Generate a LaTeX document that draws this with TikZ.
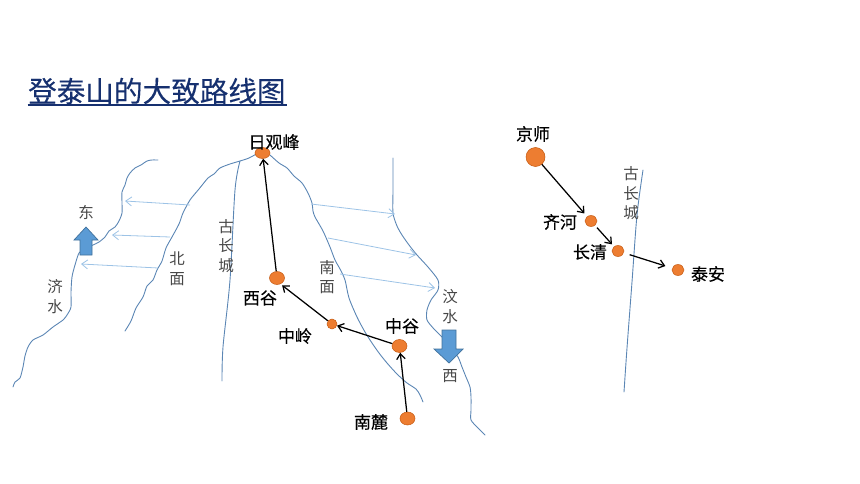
\documentclass[tikz,border=0pt]{standalone}
\usepackage{fontspec}
\usetikzlibrary{arrows.meta,shapes.geometric}
\setmainfont{Noto Sans CJK SC}
\newfontfamily\placefont[FakeBold=0.25]{Noto Sans CJK SC}
\newfontfamily\titlefont[FakeBold=0.15]{Noto Sans CJK SC}
\definecolor{riverblue}{HTML}{5B86B4}
\definecolor{paleblue}{HTML}{9DC3E6}
\definecolor{blockblue}{HTML}{5B9BD5}
\definecolor{blockedge}{HTML}{41719C}
\definecolor{dotfill}{HTML}{ED7D31}
\definecolor{dotedge}{HTML}{C55A11}
\definecolor{titleblue}{HTML}{16306F}
\tikzset{
  river/.style={draw=riverblue,line width=0.9pt,line join=round,line cap=round},
  pale/.style={draw=paleblue,line width=0.8pt,-{Straight Barb[length=6pt,width=9pt]}},
  route/.style={draw=black,line width=1.25pt,-{Straight Barb[length=5.5pt,width=8.5pt]}},
  blockarrow/.style={fill=blockblue,draw=blockedge,line width=0.7pt,line join=miter},
  dot/.style={fill=dotfill,draw=dotedge,line width=0.5pt,ellipse,inner sep=0pt},
  placelabel/.style={font=\placefont\fontsize{17}{17}\selectfont,text=black,inner sep=0pt},
  smalllabel/.style={font=\fontsize{15.5}{15.5}\selectfont,text=black!72,inner sep=0pt,align=center},
  titletext/.style={font=\titlefont\fontsize{28.6}{28.6}\selectfont,text=titleblue,inner sep=0pt,anchor=west}
}
\begin{document}
\begin{tikzpicture}[x=1pt,y=-1pt]
\useasboundingbox (0,0) rectangle (860,484);
% title
\node[titletext] (title) at (28,91) {登泰山的大致路线图};
\coordinate (ula) at (27.5,105);
\coordinate (ulb) at (287,105);
\draw[titleblue,line width=2.2pt] (ula) -- (ulb);
% rivers and slopes
\draw[river] plot[smooth,tension=0.45] coordinates {(158,160) (152,160) (147,161) (141,165) (135,168) (130,173) (127,178) (125,185) (122,192) (122,203) (122,213) (119,221) (115,227) (109,231) (105,237) (99,242) (93,245) (85,248) (79,253) (75,265) (72,277) (71,292) (71,307) (67,315) (63,320) (53,327) (43,335) (33,340) (28,347) (25,356) (23,367) (20,378) (15,382) (13,387)};
\draw[river] plot[smooth,tension=0.45] coordinates {(258,153) (249,158) (240,161) (230,164) (220,168) (214,174) (208,178) (199,189) (190,200) (183,213) (179,224) (172,237) (166,248) (162,261) (157,270) (153,280) (147,286) (143,297) (136,308) (131,321) (125,331)};
\draw[river] plot[smooth,tension=0.5] coordinates {(240,161) (235,190) (230,280) (223,347) (222,381)};
\draw[river] plot[smooth,tension=0.45] coordinates {(270,155) (279,163) (287,168) (294,176) (302,183) (308,193) (312,203) (313,211) (315,217) (323,231) (330,247) (335,260) (340,269) (345,280) (349,298) (357,317) (365,332) (372,343) (379,353) (387,363) (397,374) (407,383) (416,389) (420,395) (423,402)};
\draw[river] plot[smooth,tension=0.45] coordinates {(393,158) (393,190) (393,213) (397,226) (402,235) (409,245) (417,255) (428,267) (438,280) (438,290) (431,300) (427,310) (427,320) (434,329) (442,337) (450,347) (458,357) (462,367) (466,377) (470,387) (471,397) (471,410) (471,420) (478,428) (485,435)};
\draw[river] plot[smooth,tension=0.5] coordinates {(643,170) (637,215) (632,282) (627,348) (624,392)};
% pale arrows
\coordinate (pa1) at (190,205); \coordinate (pb1) at (125,201);
\coordinate (pa2) at (170,237); \coordinate (pb2) at (112,235);
\coordinate (pa3) at (158,268); \coordinate (pb3) at (81,264);
\coordinate (pa4) at (311,204); \coordinate (pb4) at (395,214);
\coordinate (pa5) at (328,238); \coordinate (pb5) at (416,255);
\coordinate (pa6) at (340,274); \coordinate (pb6) at (435,288);
\draw[pale] (pa1) -- (pb1);
\draw[pale] (pa2) -- (pb2);
\draw[pale] (pa3) -- (pb3);
\draw[pale] (pa4) -- (pb4);
\draw[pale] (pa5) -- (pb5);
\draw[pale] (pa6) -- (pb6);
% block arrows
\draw[blockarrow] (86,227) -- (98,240) -- (92,240) -- (92,255) -- (80,255) -- (80,240) -- (74,240) -- cycle;
\draw[blockarrow] (442,330) -- (456,330) -- (456,349) -- (463,349) -- (449,363) -- (434,349) -- (442,349) -- cycle;
% places
\node[dot,minimum width=15pt,minimum height=11pt] (riguan) at (262.5,153) {};
\node[dot,minimum width=15pt,minimum height=13pt] (xigu) at (277,278) {};
\node[dot,minimum width=10pt,minimum height=10pt] (zhongling) at (332,324) {};
\node[dot,minimum width=15pt,minimum height=13pt] (zhonggu) at (399.5,346) {};
\node[dot,minimum width=15pt,minimum height=13pt] (nanlu) at (407.5,418.5) {};
\node[dot,minimum width=19pt,minimum height=19pt] (jingshi) at (535.5,157) {};
\node[dot,minimum width=12pt,minimum height=11pt] (qihe) at (591,221) {};
\node[dot,minimum width=12pt,minimum height=11pt] (changqing) at (618,251) {};
\node[dot,minimum width=12pt,minimum height=11pt] (taian) at (678,270) {};
% routes
\draw[route] (nanlu) -- (zhonggu);
\draw[route] (zhonggu) -- (zhongling);
\draw[route,shorten >=2pt] (zhongling) -- (xigu.-60);
\draw[route] (xigu) -- (riguan);
\draw[route,shorten >=4pt] (jingshi) -- (qihe);
\draw[route,shorten <=3pt,shorten >=3pt] (qihe) -- (changqing);
\draw[route,shorten <=6pt,shorten >=7pt] (changqing) -- (taian);
% place labels
\node[placelabel] (l1) at (274,142) {日观峰};
\node[placelabel] (l2) at (260,298) {西谷};
\node[placelabel] (l3) at (295,336) {中岭};
\node[placelabel] (l4) at (402,326) {中谷};
\node[placelabel] (l5) at (371,422) {南麓};
\node[placelabel] (l6) at (533,134) {京师};
\node[placelabel] (l7) at (560,222) {齐河};
\node[placelabel] (l8) at (590,252) {长清};
\node[placelabel] (l9) at (708,274) {泰安};
% small labels
\node[smalllabel] (s1) at (86,213) {东};
\node[smalllabel] (s2) at (55,287) {济};
\node[smalllabel] (s3) at (55,307) {水};
\node[smalllabel] (s4) at (177,259) {北};
\node[smalllabel] (s5) at (177,279) {面};
\node[smalllabel] (s6) at (226,227) {古};
\node[smalllabel] (s7) at (226,246) {长};
\node[smalllabel] (s8) at (226,266) {城};
\node[smalllabel] (s9) at (327,268) {南};
\node[smalllabel] (s10) at (327,287) {面};
\node[smalllabel] (s11) at (450,297) {汶};
\node[smalllabel] (s12) at (450,317) {水};
\node[smalllabel] (s13) at (450,376) {西};
\node[smalllabel] (s14) at (631,174) {古};
\node[smalllabel] (s15) at (631,194) {长};
\node[smalllabel] (s16) at (631,213) {城};
\end{tikzpicture}
\end{document}
